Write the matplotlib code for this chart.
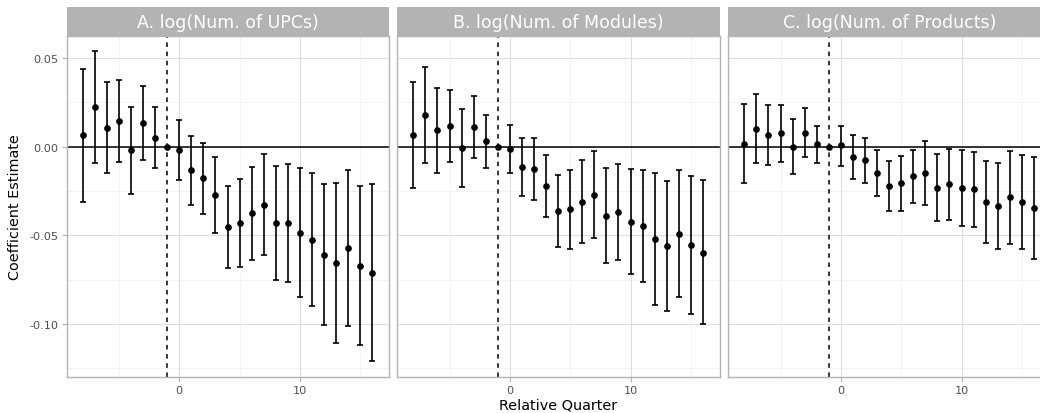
import matplotlib
matplotlib.use("Agg")
import matplotlib.pyplot as plt
from matplotlib.ticker import MultipleLocator, FixedLocator
import numpy as np

quarters = list(range(-8, 17))

titles = ["A. log(Num. of UPCs)", "B. log(Num. of Modules)", "C. log(Num. of Products)"]

coef_upc = [0.0065, 0.0222, 0.0108, 0.0146, -0.0021, 0.0135, 0.0052, 0.0,
            -0.0021, -0.0133, -0.0178, -0.0272, -0.0453, -0.0431, -0.0375, -0.0328,
            -0.0431, -0.0431, -0.0485, -0.0526, -0.0612, -0.0656, -0.0571, -0.0672, -0.0712]
hi_upc = [0.044, 0.054, 0.0365, 0.0378, 0.0222, 0.0343, 0.0225, 0.0,
          0.015, 0.0063, 0.0024, -0.0056, -0.0219, -0.0182, -0.0112, -0.0043,
          -0.0111, -0.0099, -0.0122, -0.015, -0.0212, -0.0204, -0.0129, -0.0223, -0.0212]
lo_upc = [-0.0309, -0.0094, -0.0148, -0.0086, -0.0264, -0.0073, -0.012, 0.0,
          -0.0188, -0.033, -0.0382, -0.0487, -0.0685, -0.0678, -0.0637, -0.0611,
          -0.0749, -0.0761, -0.0845, -0.0901, -0.1008, -0.1105, -0.1013, -0.1118, -0.1206]

coef_mod = [0.0065, 0.0181, 0.0092, 0.012, -0.0006, 0.0112, 0.003, 0.0,
            -0.0011, -0.0115, -0.0128, -0.0221, -0.0362, -0.0352, -0.0309, -0.0272,
            -0.0388, -0.0369, -0.0424, -0.0448, -0.0521, -0.056, -0.0493, -0.0556, -0.0598]
hi_mod = [0.0363, 0.0451, 0.0329, 0.0322, 0.0213, 0.0284, 0.018, 0.0,
          0.0125, 0.0047, 0.0047, -0.0049, -0.0157, -0.0129, -0.0075, -0.0026,
          -0.0118, -0.0099, -0.0128, -0.0133, -0.0146, -0.0193, -0.0133, -0.0163, -0.0189]
lo_mod = [-0.0232, -0.0092, -0.0148, -0.0086, -0.0227, -0.0062, -0.012, 0.0,
          -0.015, -0.0277, -0.0303, -0.0396, -0.0567, -0.0575, -0.0543, -0.0517,
          -0.0656, -0.0639, -0.0717, -0.0761, -0.0895, -0.0924, -0.085, -0.0944, -0.1002]

coef_prod = [0.0017, 0.0103, 0.0065, 0.0077, 0.0, 0.008, 0.0013, 0.0,
             0.0009, -0.0058, -0.0075, -0.0146, -0.0221, -0.0206, -0.0167, -0.0146,
             -0.023, -0.0212, -0.0234, -0.024, -0.0311, -0.0335, -0.0285, -0.0311, -0.0345]
hi_prod = [0.0239, 0.0296, 0.0234, 0.0236, 0.0157, 0.0219, 0.0116, 0.0,
           0.0118, 0.0065, 0.0052, -0.0017, -0.0079, -0.0053, -0.0021, 0.0035,
           -0.0043, -0.0013, -0.0021, -0.0028, -0.0079, -0.0092, -0.0022, -0.0047, -0.0056]
lo_prod = [-0.0206, -0.0092, -0.0103, -0.0086, -0.0156, -0.0058, -0.0092, 0.0,
           -0.0107, -0.0184, -0.0202, -0.0279, -0.0363, -0.0362, -0.0317, -0.033,
           -0.0418, -0.0412, -0.0448, -0.0452, -0.0545, -0.0575, -0.0547, -0.0575, -0.0631]

panels = [(coef_upc, lo_upc, hi_upc), (coef_mod, lo_mod, hi_mod), (coef_prod, lo_prod, hi_prod)]

y_ticks = [0.05, 0.0, -0.05, -0.10]
y_tick_labels = ["0.05", "0.00", "-0.05", "-0.10"]
x_ticks = [0, 10]
x_tick_labels = ["0", "10"]

W, H = 1040, 414
fig = plt.figure(figsize=(W / 100, H / 100), dpi=100)
plt.rcParams['font.family'] = ['DejaVu Sans']

lefts = [66.7, 397.3, 728.3]
pw = 322.5
ptop, pbot = 37.0, 378.0
strip_top = 8.0

for i, (coef, lo, hi) in enumerate(panels):
    ax = fig.add_axes([lefts[i] / W, 1 - pbot / H, pw / W, (pbot - ptop) / H])
    x = np.array(quarters)
    c = np.array(coef)
    yerr = np.vstack([c - np.array(lo), np.array(hi) - c])
    ax.set_xlim(-9.33, 17.4)
    ax.set_ylim(-0.1299, 0.0625)
    ax.xaxis.set_major_locator(FixedLocator(x_ticks))
    ax.xaxis.set_minor_locator(FixedLocator([-5, 5, 15]))
    ax.yaxis.set_major_locator(FixedLocator(y_ticks))
    ax.yaxis.set_minor_locator(FixedLocator([0.025, -0.025, -0.075, -0.125]))
    ax.grid(which='major', color='#dedede', lw=0.8)
    ax.grid(which='minor', color='#eeeeee', lw=0.5)
    ax.set_axisbelow(True)
    ax.axhline(0, color='black', lw=1.1, zorder=2)
    ax.axvline(-1, color='black', lw=1.1, linestyle=(0, (3, 3)), zorder=2)
    ax.errorbar(x, c, yerr=yerr, fmt='o', color='black', ms=3.8, elinewidth=1.2,
                capsize=2.4, capthick=1.2, zorder=3)
    for s in ax.spines.values():
        s.set_color('#b3b3b3')
        s.set_linewidth(1.0)
    ax.tick_params(which='major', length=3.4, width=0.8, color='#b3b3b3',
                   labelcolor='#4d4d4d', labelsize=8.1, pad=2.5)
    ax.tick_params(which='minor', length=0)
    ax.set_xticklabels(x_tick_labels)
    if i == 0:
        ax.set_yticklabels(y_tick_labels)
    else:
        ax.set_yticklabels([])
        ax.tick_params(axis='y', which='major', length=0)
    # strip
    sax = fig.add_axes([lefts[i] / W, 1 - ptop / H, pw / W, (ptop - strip_top) / H])
    sax.set_facecolor('#b3b3b3')
    sax.set_xticks([])
    sax.set_yticks([])
    for s in sax.spines.values():
        s.set_visible(False)
    sax.text(0.5, 0.47, titles[i], color='white', fontsize=12.5,
             ha='center', va='center', transform=sax.transAxes)

fig.text(15 / W, 1 - 207.5 / H, "Coefficient Estimate", rotation=90, ha='center',
         va='center', fontsize=10.4, color='black')
fig.text(558 / W, 1 - 406 / H, "Relative Quarter", ha='center', va='center',
         fontsize=10.4, color='black')

fig.savefig("out.png", dpi=100)
